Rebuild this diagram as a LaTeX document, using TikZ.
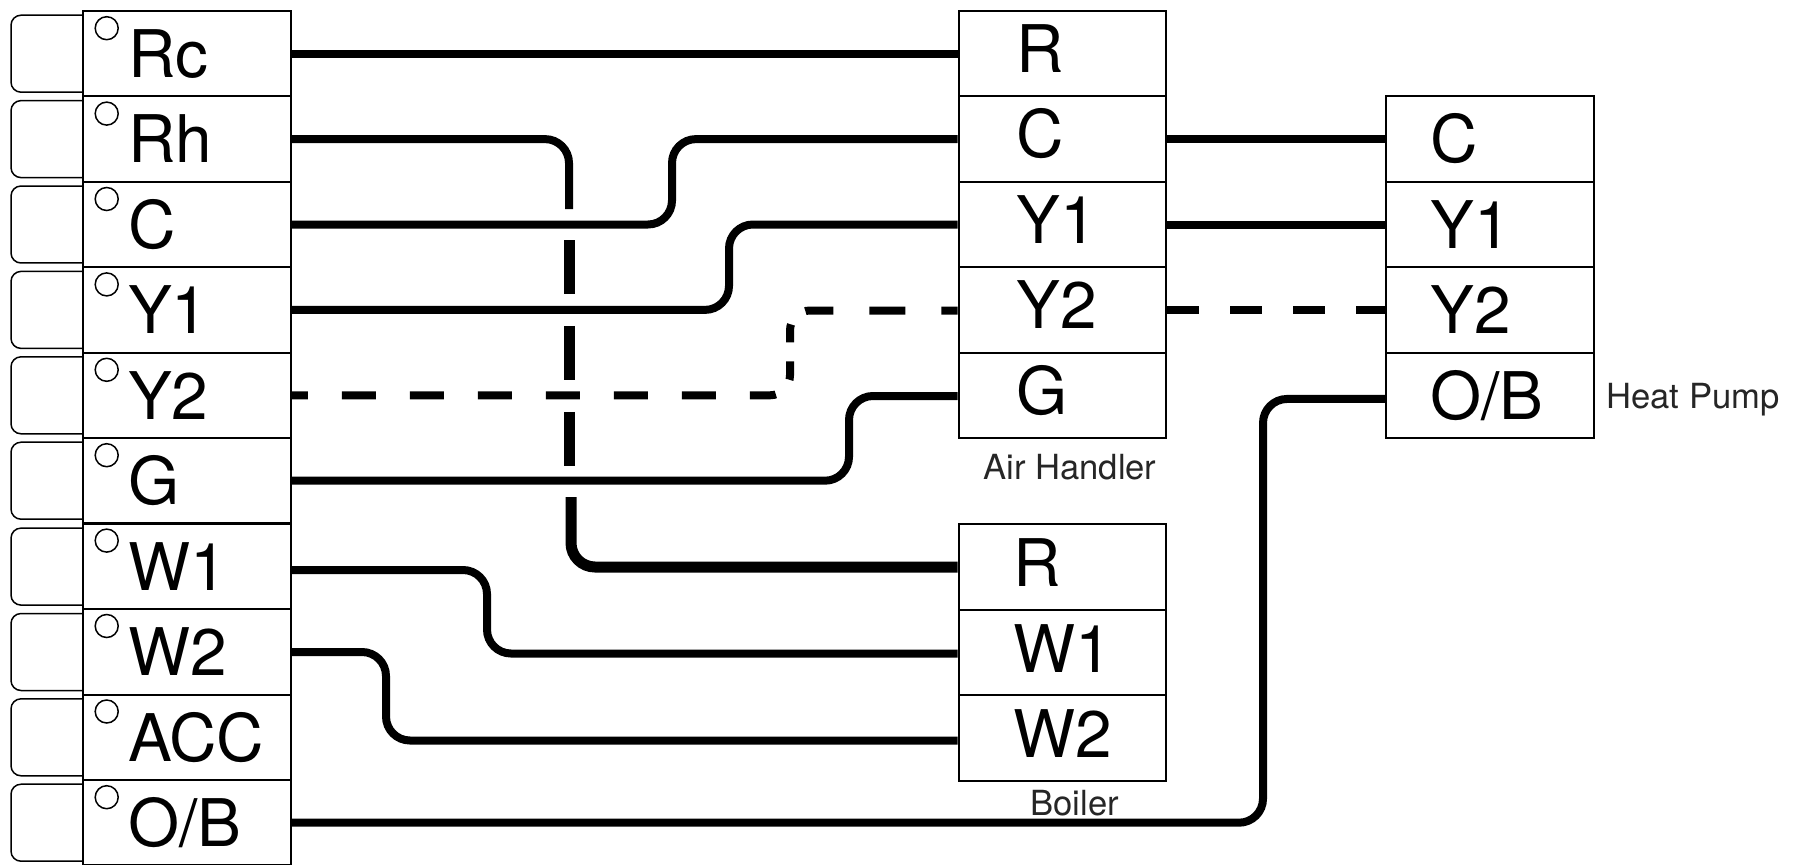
\documentclass[tikz,border=0pt]{standalone}
\usepackage{fontspec}
\setmainfont{TeX Gyre Heros}
\tikzset{
    termbox/.style={draw, line width=.04cm, fill=white, minimum width=4.16cm, minimum height=1.708cm,
        inner xsep=0pt, inner ysep=0pt, text width=4.16cm, align=left, text height=.95cm, text depth=0pt,
        font=\fontsize{37.4}{40}\selectfont, execute at begin node=\hspace*{#1}},
    ahbox/.style={termbox=#1, text depth=.16cm},
    tabbox/.style={draw, line width=.03cm, rounded corners=.2cm, minimum width=1.86cm, minimum height=1.54cm, inner sep=0pt},
    pinhole/.style={draw, circle, line width=.03cm, minimum size=.46cm, inner sep=0pt},
    caption/.style={anchor=base west, inner sep=0pt, text=black!85, font=\fontsize{19.7}{22}\selectfont},
    wire/.style={line width=.16cm, rounded corners=.48cm},
    fatwire/.style={line width=.22cm, rounded corners=.48cm}
}
\begin{document}
\begin{tikzpicture}[x=.02cm,y=-.02cm]
    \useasboundingbox (0,0) rectangle (1801,865);

    \node[tabbox] (tabRc) at (57.5,53.7) {};
    \node[tabbox] (tabRh) at (57.5,139.1) {};
    \node[tabbox] (tabC) at (57.5,224.5) {};
    \node[tabbox] (tabYa) at (57.5,309.9) {};
    \node[tabbox] (tabYb) at (57.5,395.3) {};
    \node[tabbox] (tabG) at (57.5,480.7) {};
    \node[tabbox] (tabWa) at (57.5,566.6) {};
    \node[tabbox] (tabWb) at (57.5,652) {};
    \node[tabbox] (tabACC) at (57.5,737.3) {};
    \node[tabbox] (tabOB) at (57.5,822.7) {};

    \node[termbox=.9cm] (tRc) at (187,53.7) {Rc};
    \node[termbox=.9cm] (tRh) at (187,139.1) {Rh};
    \node[termbox=.9cm] (tC) at (187,224.5) {C};
    \node[termbox=.9cm] (tYa) at (187,309.9) {Y1};
    \node[termbox=.9cm] (tYb) at (187,395.3) {Y2};
    \node[termbox=.9cm] (tG) at (187,480.7) {G};
    \node[termbox=.9cm] (tWa) at (187,566.6) {W1};
    \node[termbox=.9cm] (tWb) at (187,652) {W2};
    \node[termbox=.9cm] (tACC) at (187,737.3) {ACC};
    \node[termbox=.9cm] (tOB) at (187,822.7) {O/B};

    \node[pinhole] (pinRc) at (106.7,28.2) {};
    \node[pinhole] (pinRh) at (106.7,113.6) {};
    \node[pinhole] (pinC) at (106.7,199) {};
    \node[pinhole] (pinYa) at (106.7,284.4) {};
    \node[pinhole] (pinYb) at (106.7,369.8) {};
    \node[pinhole] (pinG) at (106.7,455.2) {};
    \node[pinhole] (pinWa) at (106.7,540.6) {};
    \node[pinhole] (pinWb) at (106.7,626) {};
    \node[pinhole] (pinACC) at (106.7,711.5) {};
    \node[pinhole] (pinOB) at (106.7,797.2) {};

    \node[ahbox=1.16cm, text depth=.2cm] (ahR) at (1062.5,53.7) {R};
    \node[ahbox=1.16cm, text depth=.2cm] (ahC) at (1062.5,139.1) {C};
    \node[ahbox=1.16cm, text depth=.2cm] (ahYa) at (1062.5,224.5) {Y1};
    \node[ahbox=1.16cm, text depth=.2cm] (ahYb) at (1062.5,309.9) {Y2};
    \node[ahbox=1.16cm, text depth=.2cm] (ahG) at (1062.5,395.3) {G};
    \node[caption] (ahName) at (983,479) {Air Handler};

    \node[ahbox=1.09cm] (boR) at (1062.5,567) {R};
    \node[ahbox=1.09cm] (boWa) at (1062.5,652.5) {W1};
    \node[ahbox=1.09cm] (boWb) at (1062.5,738) {W2};
    \node[caption] (boName) at (1030,815) {Boiler};

    \node[termbox=.89cm] (hpC) at (1490,139.1) {C};
    \node[termbox=.89cm] (hpYa) at (1490,224.5) {Y1};
    \node[termbox=.89cm] (hpYb) at (1490,309.9) {Y2};
    \node[termbox=.89cm] (hpOB) at (1490,395.3) {O/B};
    \node[caption] (hpName) at (1606,408) {Heat Pump};

    \coordinate (rhTop) at (569,209);
    \coordinate (rhMidA) at (569,240);
    \coordinate (rhMidB) at (569,466);
    \coordinate (rhLow) at (571,497);

    \draw[wire] (tRc.east) -- (ahR.west);
    \draw[wire] (tRh.east) -- (569,139.1) -- (rhTop);
    \draw[fatwire, dash pattern=on 1.08cm off .64cm] (rhMidA) -- (rhMidB);
    \draw[fatwire] (rhLow) -- (571,567) -- (boR.west);
    \draw[wire] (tC.east) -- (672,224.5) -- (672,139.1) -- (ahC.west);
    \draw[wire] (tYa.east) -- (729,309.9) -- (729,224.5) -- (ahYa.west);
    \draw[wire, rounded corners=.4cm, dash phase=.36cm,
        dash pattern=on .68cm off .68cm on .68cm off .68cm on .68cm off .68cm on .68cm off .68cm on .68cm off .68cm on .68cm off .68cm on .68cm off .68cm on .52cm off .42cm on .37cm off .38cm on .36cm off .41cm on .56cm off .72cm on .72cm off .72cm on .72cm]
        (tYb.east) -- (790,395.3) -- (790,310.5) -- ([yshift=-.012cm]ahYb.west);
    \draw[wire] (tG.east) -- (849,480.7) -- (849,396) -- ([yshift=-.014cm]ahG.west);
    \draw[wire] ([yshift=-.07cm]tWa.east) -- (487,570) -- (487,653.5) -- ([yshift=-.02cm]boWa.west);
    \draw[wire] (tWb.east) -- (386,652) -- (386,740.5) -- ([yshift=-.05cm]boWb.west);
    \draw[wire] (tOB.east) -- (1263,822.7) -- (1263,399) -- ([yshift=-.07cm]hpOB.west);

    \draw[wire] (ahC.east) -- (hpC.west);
    \draw[wire] (ahYa.east) -- (hpYa.west);
    \draw[wire, dash pattern=on .64cm off .62cm] (ahYb.east) -- (hpYb.west);
\end{tikzpicture}
\end{document}
